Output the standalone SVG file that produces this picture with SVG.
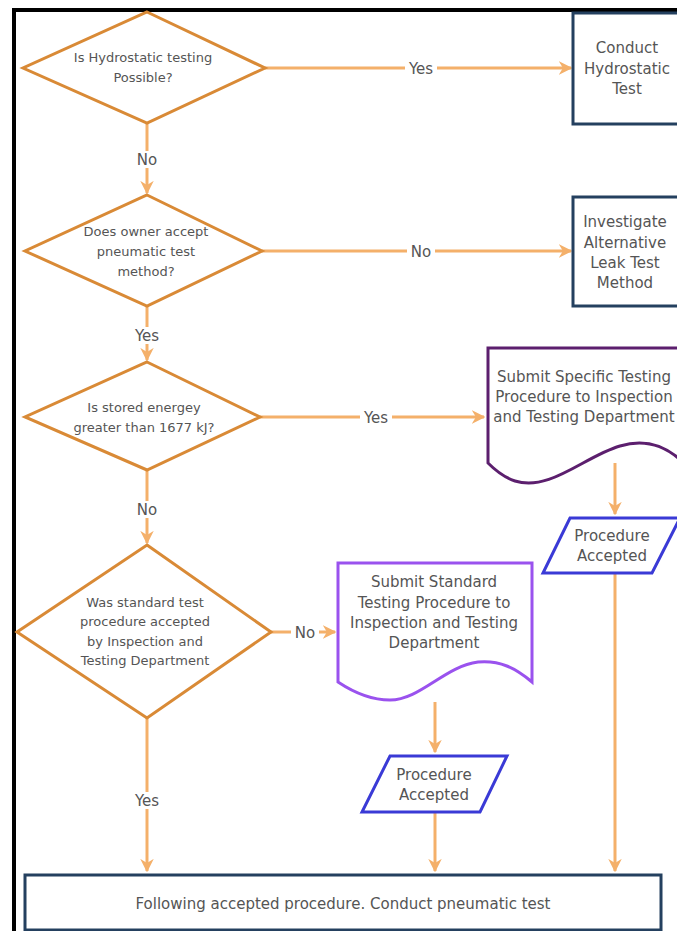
<svg xmlns="http://www.w3.org/2000/svg" width="677" height="931" viewBox="0 0 677 931">
<style>
text{font-family:"DejaVu Sans","Verdana",sans-serif;fill:#555;text-anchor:middle}
.dt{font-size:13px}
.bt{font-size:15px}
.lb{font-size:15px}
.dia{fill:#fff;stroke:#d98a36;stroke-width:3;stroke-linejoin:miter}
.box{fill:#fff;stroke:#24405f;stroke-width:3}
.doc1{fill:#fff;stroke:#5c1f6e;stroke-width:3}
.doc2{fill:#fff;stroke:#9a52ee;stroke-width:3}
.par{fill:#fff;stroke:#3a3ad6;stroke-width:3}
.con{fill:none;stroke:#f4b06a;stroke-width:3}
.lbg{fill:#fff}
</style>
<defs>
<marker id="ah" viewBox="0 0 10 10" refX="9" refY="5" markerWidth="4.5" markerHeight="4.5" orient="auto" markerUnits="strokeWidth">
<path d="M0,0 L10,5 L0,10 L3,5 Z" fill="#f4b06a"/>
</marker>
</defs>
<rect x="0" y="0" width="677" height="931" fill="#fff"/>
<path d="M14,931 V10 H677" fill="none" stroke="#000" stroke-width="4"/>

<g id="connectors">
<line class="con" x1="265" y1="68" x2="571" y2="68" marker-end="url(#ah)"/>
<line class="con" x1="147" y1="123" x2="147" y2="193" marker-end="url(#ah)"/>
<line class="con" x1="262" y1="251" x2="571" y2="251" marker-end="url(#ah)"/>
<line class="con" x1="147" y1="306" x2="147" y2="360" marker-end="url(#ah)"/>
<line class="con" x1="260" y1="417" x2="484" y2="417" marker-end="url(#ah)"/>
<line class="con" x1="147" y1="470" x2="147" y2="543" marker-end="url(#ah)"/>
<line class="con" x1="271" y1="632" x2="335" y2="632" marker-end="url(#ah)"/>
<line class="con" x1="615" y1="463" x2="615" y2="514" marker-end="url(#ah)"/>
<line class="con" x1="435" y1="702" x2="435" y2="752" marker-end="url(#ah)"/>
<line class="con" x1="147" y1="718" x2="147" y2="871" marker-end="url(#ah)"/>
<line class="con" x1="435" y1="813" x2="435" y2="871" marker-end="url(#ah)"/>
<line class="con" x1="615" y1="574" x2="615" y2="871" marker-end="url(#ah)"/>
<rect class="lbg" x="405" y="60" width="32" height="17"/>
<text class="lb" x="421" y="74">Yes</text>
<rect class="lbg" x="133" y="151" width="28" height="17"/>
<text class="lb" x="147" y="165">No</text>
<rect class="lbg" x="407" y="243" width="28" height="17"/>
<text class="lb" x="421" y="257">No</text>
<rect class="lbg" x="131" y="327" width="32" height="17"/>
<text class="lb" x="147" y="341">Yes</text>
<rect class="lbg" x="360" y="409" width="32" height="17"/>
<text class="lb" x="376" y="423">Yes</text>
<rect class="lbg" x="133" y="501" width="28" height="17"/>
<text class="lb" x="147" y="515">No</text>
<rect class="lbg" x="291" y="624" width="28" height="17"/>
<text class="lb" x="305" y="638">No</text>
<rect class="lbg" x="131" y="792" width="32" height="17"/>
<text class="lb" x="147" y="806">Yes</text>
</g>

<g id="d1">
<polygon class="dia" points="147,12 265,68 147,123 23,68"/>
<text class="dt" x="143" y="62">Is Hydrostatic testing</text>
<text class="dt" x="143" y="82">Possible?</text>
</g>
<g id="b1">
<rect class="box" x="573" y="13" width="112" height="111"/>
<text class="bt" x="627" y="53">Conduct</text>
<text class="bt" x="627" y="74">Hydrostatic</text>
<text class="bt" x="627" y="94">Test</text>
</g>
<g id="d2">
<polygon class="dia" points="147,195 262,251 147,306 25,251"/>
<text class="dt" x="146" y="236">Does owner accept</text>
<text class="dt" x="146" y="256">pneumatic test</text>
<text class="dt" x="146" y="276">method?</text>
</g>
<g id="b2">
<rect class="box" x="573" y="197" width="112" height="109"/>
<text class="bt" x="625" y="227">Investigate</text>
<text class="bt" x="625" y="248">Alternative</text>
<text class="bt" x="625" y="268">Leak Test</text>
<text class="bt" x="625" y="288">Method</text>
</g>
<g id="d3">
<polygon class="dia" points="147,362 260,417 147,470 25,417"/>
<text class="dt" x="144" y="412">Is stored energey</text>
<text class="dt" x="144" y="432">greater than 1677 kJ?</text>
</g>
<g id="doc1">
<path class="doc1" d="M488,348 H690 V470 C665,440 640,440 620,446 C585,456 550,492 515,481 C503,477 495,470 488,463 Z"/>
<text class="bt" x="584" y="382">Submit Specific Testing</text>
<text class="bt" x="584" y="402">Procedure to Inspection</text>
<text class="bt" x="584" y="422">and Testing Department</text>
</g>
<g id="p1">
<polygon class="par" points="570,518 680,518 652,573 543,573"/>
<text class="bt" x="612" y="541">Procedure</text>
<text class="bt" x="612" y="561">Accepted</text>
</g>
<g id="d4">
<polygon class="dia" points="147,545 271,632 147,718 17,632"/>
<text class="dt" x="145" y="607">Was standard test</text>
<text class="dt" x="145" y="626">procedure accepted</text>
<text class="dt" x="145" y="646">by Inspection and</text>
<text class="dt" x="145" y="665">Testing Department</text>
</g>
<g id="doc2">
<path class="doc2" d="M338,563 H532 V682 C515,668 500,660 478,662 C445,666 420,700 390,700 C368,700 350,690 338,682 Z"/>
<text class="bt" x="434" y="587">Submit Standard</text>
<text class="bt" x="434" y="608">Testing Procedure to</text>
<text class="bt" x="434" y="628">Inspection and Testing</text>
<text class="bt" x="434" y="648">Department</text>
</g>
<g id="p2">
<polygon class="par" points="390,756 507,756 480,812 362,812"/>
<text class="bt" x="434" y="780">Procedure</text>
<text class="bt" x="434" y="800">Accepted</text>
</g>
<g id="b3">
<rect class="box" x="25" y="875" width="636" height="55"/>
<text class="bt" x="343" y="909">Following accepted procedure. Conduct pneumatic test</text>
</g>
</svg>
